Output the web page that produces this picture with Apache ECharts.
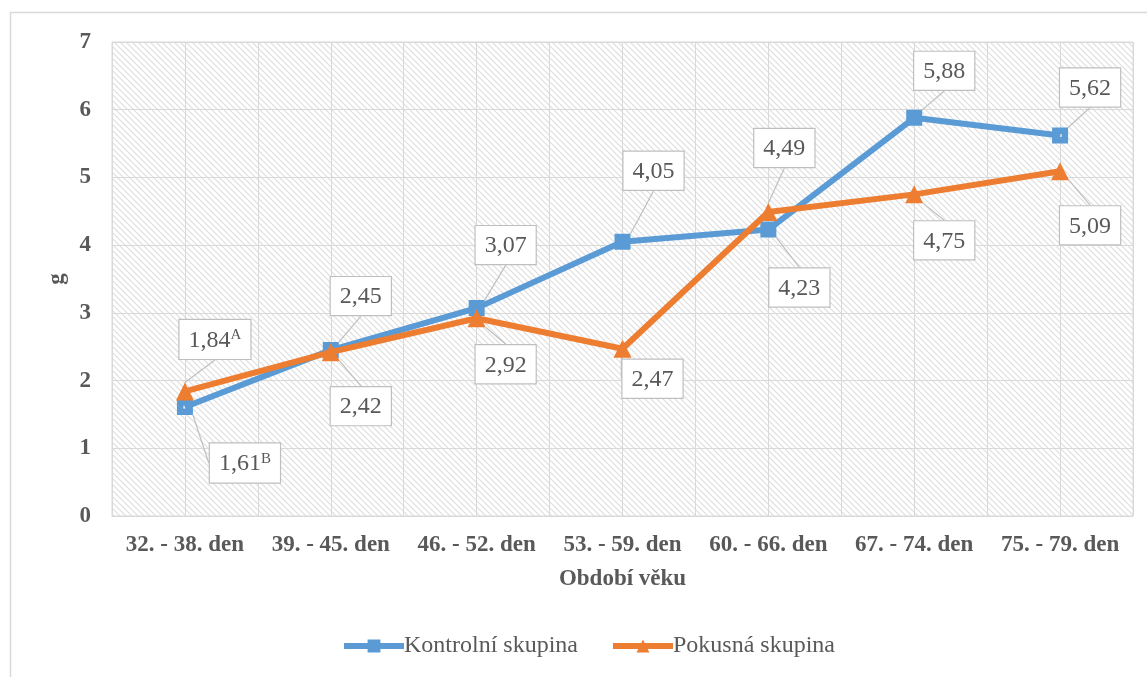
<!DOCTYPE html>
<html>
<head>
<meta charset="utf-8">
<script src="https://cdn.jsdelivr.net/npm/echarts@6/dist/echarts.min.js"></script>
<style>
    html, body {margin: 0; padding: 0; background: #fff;}
    #main {width: 1147px; height: 677px;}
</style>
</head>
<body>
<div id="main"></div>
<script>
// data
var categories = ['32. - 38. den', '39. - 45. den', '46. - 52. den', '53. - 59. den', '60. - 66. den', '67. - 74. den', '75. - 79. den'];
var kontrolni = [1.61, 2.45, 3.07, 4.05, 4.23, 5.88, 5.62];
var pokusna = [1.84, 2.42, 2.92, 2.47, 4.49, 4.75, 5.09];
var kontrolniSup = ['B', '', '', '', '', '', ''];
var pokusnaSup = ['A', '', '', '', '', '', ''];

// callout offsets (box centre minus point)
var kontrolniShift = [[60, 56], [30, -54], [29, -63], [31, -71], [31, 58], [30, -47], [30, -48]];
var pokusnaShift = [[30, -52], [30, 54], [29, 46], [30, 30], [16, -64], [30, 46], [30, 54]];

var blue = '#5B9BD5';
var orange = '#ED7D31';
var textColor = '#595959';
var serif = '"Liberation Serif", "Times New Roman", serif';

// hatched plot background
var hatch = document.createElement('canvas');
hatch.width = 6;
hatch.height = 6;
var ctx = hatch.getContext('2d');
ctx.fillStyle = '#fff';
ctx.fillRect(0, 0, 6, 6);
ctx.strokeStyle = '#dedede';
ctx.lineWidth = 1.2;
ctx.beginPath();
ctx.moveTo(0, 0); ctx.lineTo(6, 6);
ctx.moveTo(-3, 3); ctx.lineTo(3, 9);
ctx.moveTo(3, -3); ctx.lineTo(9, 3);
ctx.stroke();

// square marker with a small white hole
var squareMark = 'path://M0,0H16V16H0Z M6.5,6.5V9.5H9.5V6.5Z';

function fmt(v) {
    return v.toFixed(2).replace('.', ',');
}

function makeLabel(sups) {
    return {
        show: true,
        position: 'inside',
        formatter: function (p) {
            var s = sups[p.dataIndex];
            return '{v|' + fmt(p.value) + '}' + (s ? '{s|' + s + '}' : '');
        },
        backgroundColor: '#fff',
        borderColor: '#bfbfbf',
        borderWidth: 1.2,
        padding: [8, 9, 6, 9],
        color: textColor,
        rich: {
            v: {fontFamily: serif, fontSize: 24, color: textColor},
            s: {fontFamily: serif, fontSize: 15, color: textColor, verticalAlign: 'top', padding: [0, 0, 10, 0]}
        }
    };
}

var chart = echarts.init(document.getElementById('main'));
chart.setOption({
    backgroundColor: '#fff',
    animation: false,
    graphic: [{
        type: 'rect',
        shape: {x: 10.5, y: 12.5, width: 1200, height: 700},
        style: {fill: 'none', stroke: '#d9d9d9', lineWidth: 1.5},
        silent: true,
        z: -10
    }],
    grid: {
        left: 112,
        right: 14,
        top: 42,
        bottom: 161,
        show: true,
        backgroundColor: {image: hatch, repeat: 'repeat'},
        borderColor: '#d9d9d9',
        borderWidth: 1
    },
    legend: {
        bottom: 14,
        left: 336,
        itemWidth: 60,
        itemHeight: 16,
        itemGap: 32,
        textStyle: {fontFamily: serif, fontSize: 24, color: textColor, padding: [0, 0, 0, -5]},
        data: [
            {name: 'Kontrolní skupina', lineStyle: {width: 6}},
            {name: 'Pokusná skupina', lineStyle: {width: 6}}
        ]
    },
    xAxis: [{
        type: 'category',
        data: categories,
        boundaryGap: true,
        name: 'Období věku',
        nameLocation: 'middle',
        nameGap: 52,
        nameTextStyle: {fontFamily: serif, fontSize: 23, fontWeight: 'bold', color: textColor},
        axisLine: {show: true, lineStyle: {color: '#d9d9d9'}},
        axisTick: {show: false},
        axisLabel: {fontFamily: serif, fontSize: 23, fontWeight: 'bold', color: textColor, margin: 18, interval: 0},
        splitLine: {show: false}
    }, {
        type: 'value',
        min: 0,
        max: 14,
        interval: 1,
        position: 'bottom',
        axisLine: {show: false},
        axisTick: {show: false},
        axisLabel: {show: false},
        splitLine: {show: true, lineStyle: {color: '#d9d9d9', width: 1}}
    }],
    yAxis: {
        type: 'value',
        min: 0,
        max: 7,
        interval: 1,
        name: 'g',
        nameLocation: 'middle',
        nameGap: 36,
        nameRotate: 90,
        nameTextStyle: {fontFamily: serif, fontSize: 23, fontWeight: 'bold', color: textColor},
        axisLine: {show: false},
        axisTick: {show: false},
        axisLabel: {fontFamily: serif, fontSize: 23, fontWeight: 'bold', color: textColor, margin: 21},
        splitLine: {show: true, lineStyle: {color: '#d9d9d9', width: 1}}
    },
    series: [{
        name: 'Kontrolní skupina',
        type: 'line',
        data: kontrolni,
        symbol: squareMark,
        symbolSize: 16,
        lineStyle: {color: blue, width: 6},
        itemStyle: {color: blue},
        label: makeLabel(kontrolniSup),
        labelLine: {show: true, lineStyle: {color: '#bfbfbf', width: 1.2}},
        labelLayout: function (p) {
            var s = kontrolniShift[p.dataIndex];
            return {dx: s[0], dy: s[1]};
        },
        z: 3
    }, {
        name: 'Pokusná skupina',
        type: 'line',
        data: pokusna,
        symbol: 'triangle',
        symbolSize: 18,
        lineStyle: {color: orange, width: 6},
        itemStyle: {color: orange},
        label: makeLabel(pokusnaSup),
        labelLine: {show: true, lineStyle: {color: '#bfbfbf', width: 1.2}},
        labelLayout: function (p) {
            var s = pokusnaShift[p.dataIndex];
            return {dx: s[0], dy: s[1]};
        },
        z: 4
    }]
});

window.onresize = function () {
    chart.resize();
};
</script>
</body>
</html>
